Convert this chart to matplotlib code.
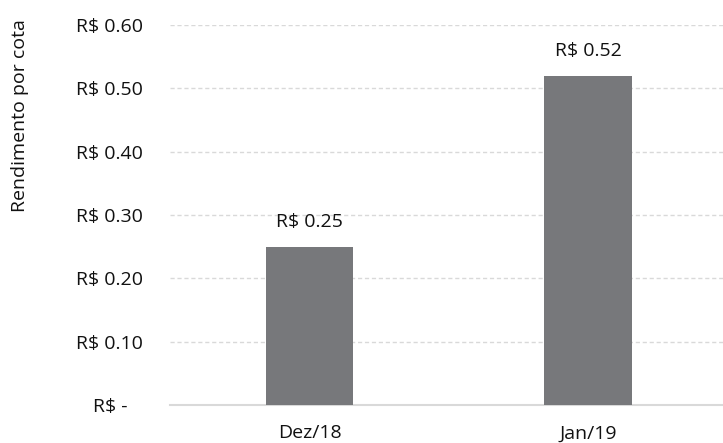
import matplotlib.pyplot as plt
from matplotlib.ticker import FuncFormatter

meses = ['Dez/18', 'Jan/19']
rendimento = [0.25, 0.52]
yticks = [0.0, 0.1, 0.2, 0.3, 0.4, 0.5, 0.6]

plt.rcParams['font.family'] = ['Open Sans', 'DejaVu Sans']
txt = '#111111'
fs = 14

fig = plt.figure(figsize=(7.23, 4.43), dpi=100)
ax = fig.add_axes([0.2358, 0.0858, 0.7700, 0.8578])

x = range(len(meses))
bars = ax.bar(x, rendimento, width=0.313, color='#77787b', zorder=3)

for b, v in zip(bars, rendimento):
    ax.text(b.get_x() + b.get_width() / 2, v + 0.025, f'R$ {v:.2f}',
            ha='center', va='bottom', fontsize=fs, color=txt)


def fmt(v, pos):
    if abs(v) < 1e-9:
        return 'R$ -   '
    return f'R$ {v:.2f}'


ax.set_ylim(0, 0.6)
ax.set_xlim(-0.5, 1.5)
ax.set_yticks(yticks)
ax.yaxis.set_major_formatter(FuncFormatter(fmt))
ax.set_xticks(list(x))
ax.set_xticklabels(meses)
ax.tick_params(axis='both', length=0, labelsize=fs, colors=txt)
ax.tick_params(axis='y', pad=20)
ax.tick_params(axis='x', pad=14)

ax.grid(axis='y', color='#d9d9d9', linestyle=(0, (3, 2)), linewidth=1, zorder=0)
for s in ['top', 'right', 'left']:
    ax.spines[s].set_visible(False)
ax.spines['bottom'].set_color('#d9d9d9')
ax.spines['bottom'].set_linewidth(1.5)

fig.text(20 / 723, 1 - 116 / 443, 'Rendimento por cota', rotation=90,
         ha='center', va='center', fontsize=fs, color=txt)

fig.savefig('out.png', dpi=100)
